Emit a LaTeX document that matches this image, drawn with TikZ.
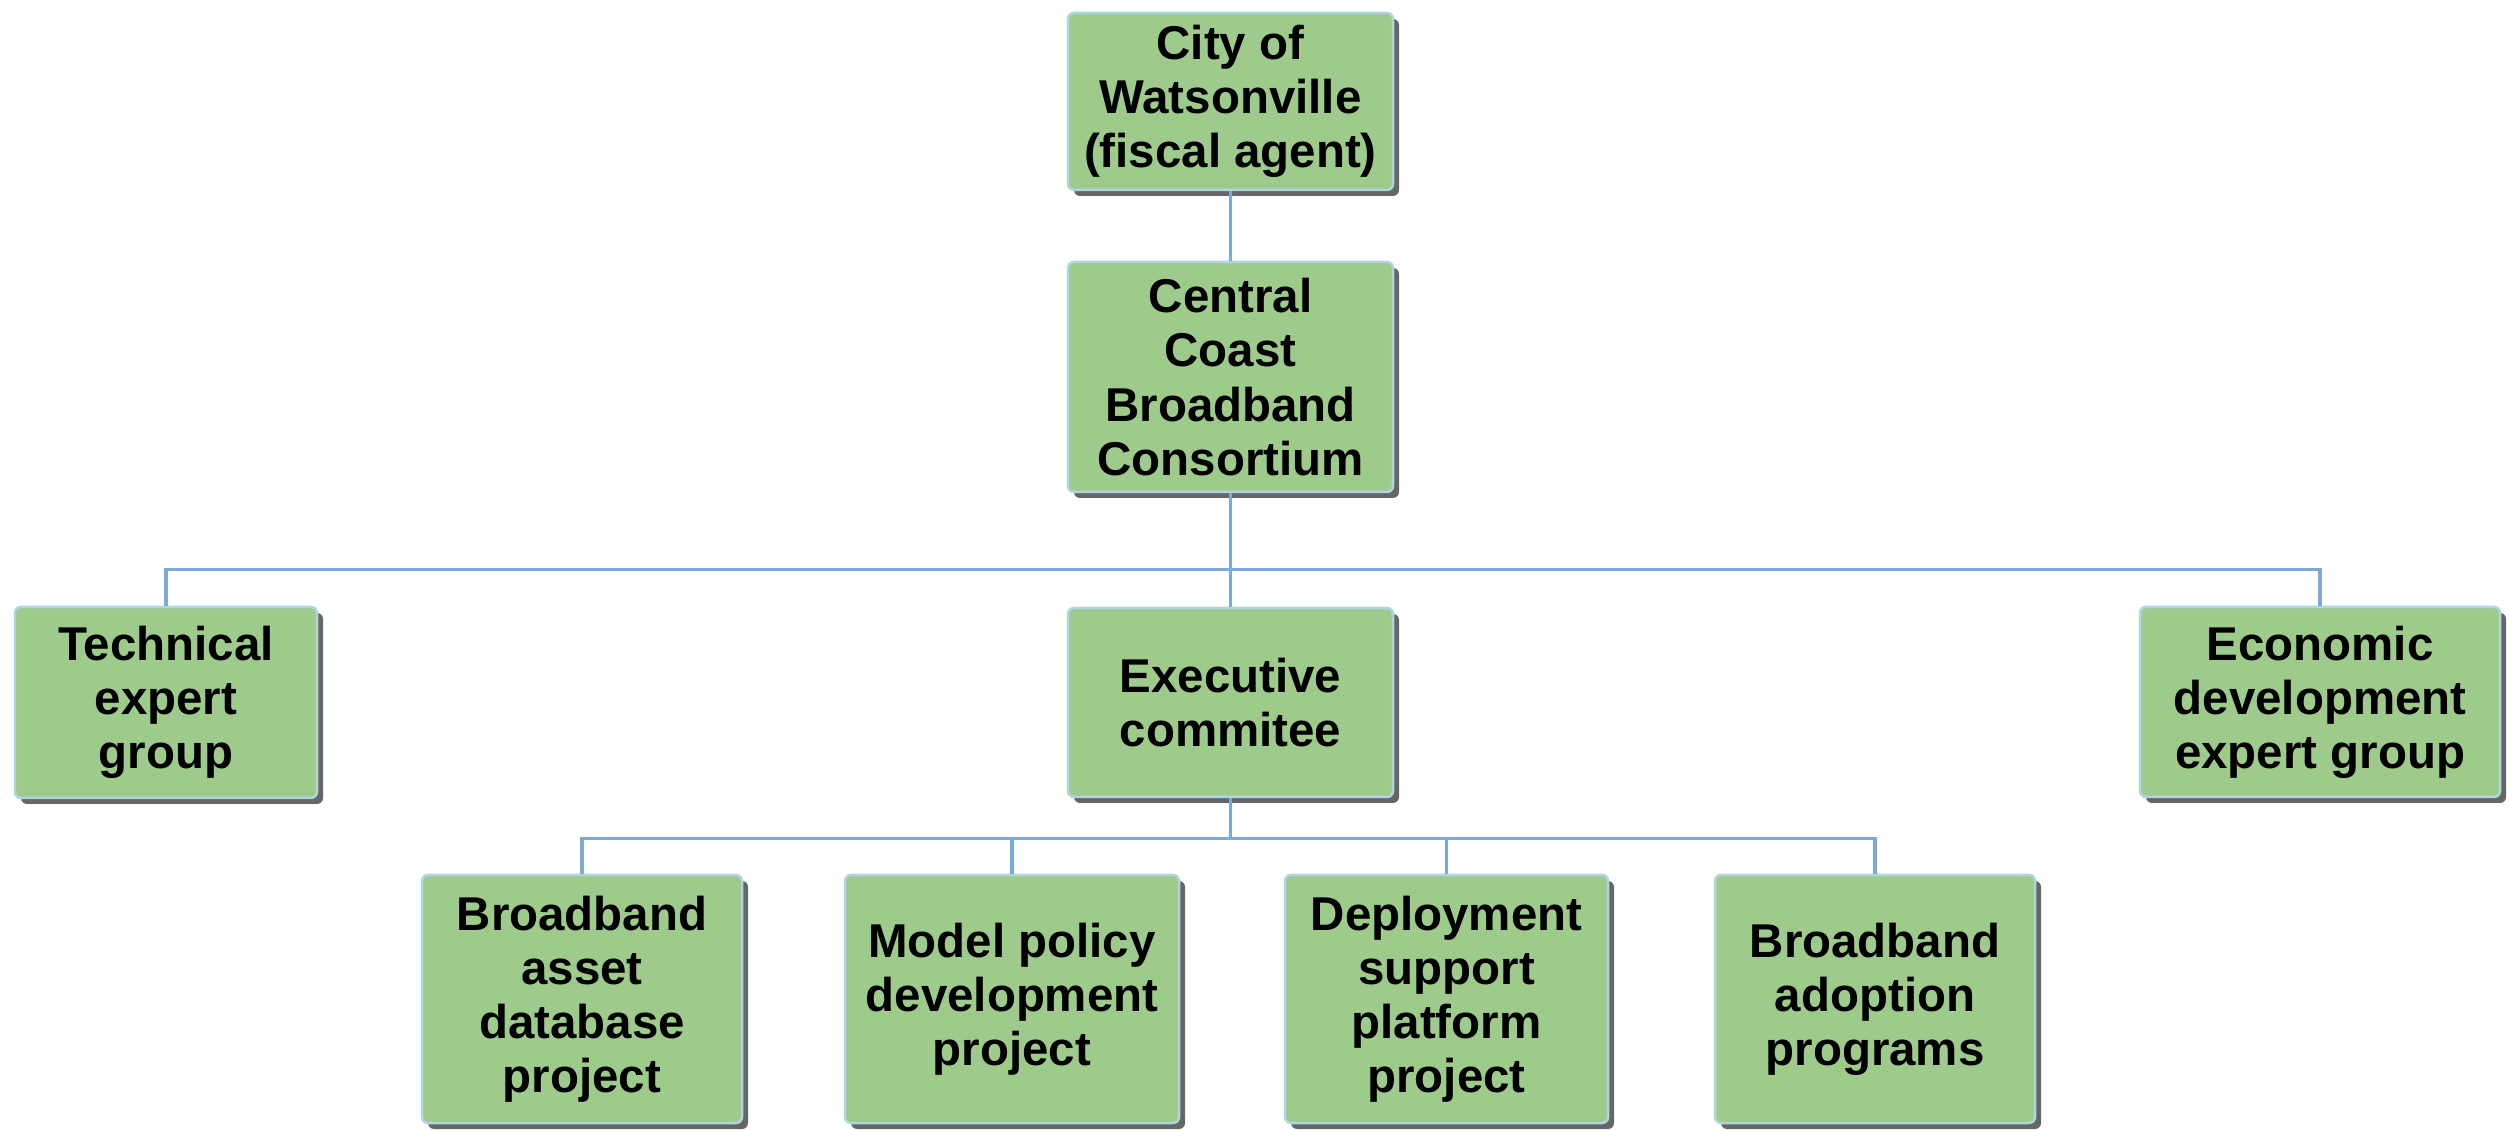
\documentclass[tikz,border=0pt]{standalone}
\usepackage{fontspec}
\setmainfont{Liberation Sans}
\usetikzlibrary{shadows}

\definecolor{boxgreen}{RGB}{158,203,140}
\definecolor{boxline}{RGB}{175,212,226}
\definecolor{linkblue}{RGB}{125,168,218}

\begin{document}
\begin{tikzpicture}[org box/.style={rectangle,rounded corners=0.06cm,draw=boxline,line width=0.025cm,fill=boxgreen,
    drop shadow={shadow xshift=0.06cm,shadow yshift=-0.06cm,fill=black!80,opacity=0.75},
    align=center,inner sep=0pt,font=\fontsize{13.5}{15.4}\selectfont\bfseries},
  link/.style={draw=linkblue,line width=0.032cm}]
  \useasboundingbox (0,0) rectangle (25.09,-11.3);

  \node[org box,minimum width=3.25cm,minimum height=1.77cm] (city) at (12.305,-1.015) {City of\\Watsonville\\(fiscal agent)};
  \node[org box,minimum width=3.25cm,minimum height=2.30cm] (ccbc) at (12.305,-3.77) {Central\\Coast\\Broadband\\Consortium};
  \node[org box,minimum width=3.02cm,minimum height=1.91cm] (tech) at (1.66,-7.025) {Technical\\expert\\group};
  \node[org box,minimum width=3.25cm,minimum height=1.89cm] (exec) at (12.305,-7.025) {Executive\\commitee};
  \node[org box,minimum width=3.60cm,minimum height=1.90cm] (econ) at (23.20,-7.02) {Economic\\development\\expert group};
  \node[org box,minimum width=3.20cm,minimum height=2.48cm] (asset) at (5.82,-9.99) {Broadband\\asset\\database\\project};
  \node[org box,minimum width=3.34cm,minimum height=2.48cm] (policy) at (10.12,-9.99) {Model policy\\development\\project};
  \node[org box,minimum width=3.23cm,minimum height=2.48cm] (deploy) at (14.465,-9.99) {Deployment\\support\\platform\\project};
  \node[org box,minimum width=3.20cm,minimum height=2.48cm] (adopt) at (18.75,-9.99) {Broadband\\adoption\\programs};

  \draw[link] (city.south) -- (ccbc.north);
  \draw[link] (ccbc.south) -- ++(0,-0.76) -| (tech.north);
  \draw[link] (ccbc.south) -- (exec.north);
  \draw[link] (ccbc.south) -- ++(0,-0.76) -| (econ.north);
  \draw[link] (exec.south) -- ++(0,-0.40) -| (asset.north);
  \draw[link] (exec.south) -- ++(0,-0.40) -| (policy.north);
  \draw[link] (exec.south) -- ++(0,-0.40) -| (deploy.north);
  \draw[link] (exec.south) -- ++(0,-0.40) -| (adopt.north);
\end{tikzpicture}
\end{document}
